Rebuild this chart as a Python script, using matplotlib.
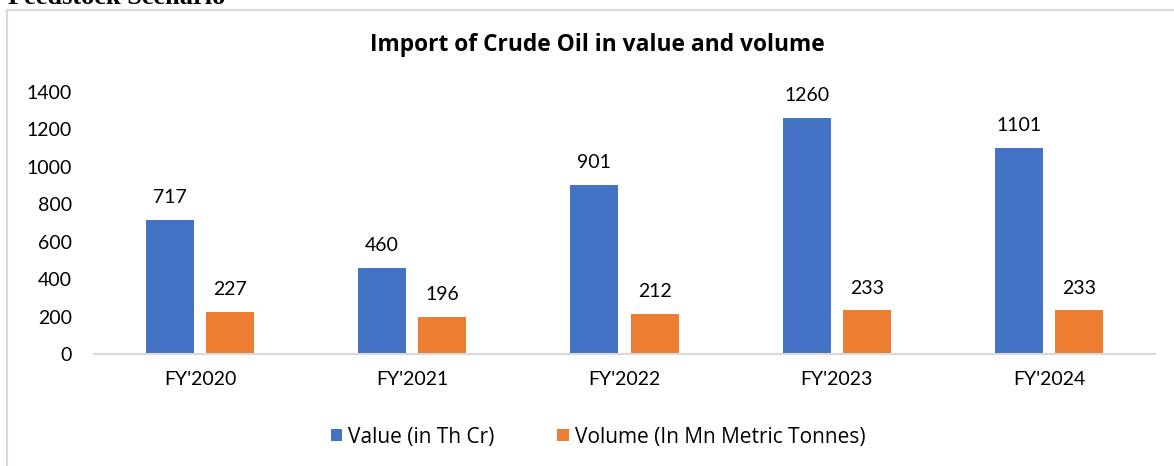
import numpy as np
import matplotlib.pyplot as plt
from matplotlib.patches import Rectangle

years = ["FY'2020", "FY'2021", "FY'2022", "FY'2023", "FY'2024"]
value_th_cr = [717, 460, 901, 1260, 1101]
volume_mn_t = [227, 196, 212, 233, 233]
yticks = [0, 200, 400, 600, 800, 1000, 1200, 1400]

plt.rcParams['font.family'] = ['Lato', 'DejaVu Sans']

W, H = 1174, 466
fig = plt.figure(figsize=(W / 100, H / 100), dpi=100)

# cut-off section header above the chart box
fig.text(8 / W, 1 - 4 / H, "Feedstock Scenario", family='Liberation Serif',
         fontweight='bold', fontsize=19, va='baseline', ha='left')

# chart frame (runs off the right and bottom edges)
fig.patches.append(Rectangle((7 / W, -0.1), 1.2, 1 - 10 / H + 0.1,
                             transform=fig.transFigure, fill=False,
                             edgecolor='#d9d9d9', lw=1.5))

ax = fig.add_axes([94 / W, 1 - 354 / H, (1155 - 94) / W, (354 - 92) / H])

x = np.arange(len(years))
w = 0.226
off = 0.142
b1 = ax.bar(x - off, value_th_cr, w, color='#4472C4', label='Value (in Th Cr)')
b2 = ax.bar(x + off, volume_mn_t, w, color='#ED7D31', label='Volume (In Mn Metric Tonnes)')

for bars in (b1, b2):
    for r in bars:
        ax.annotate(f"{int(r.get_height())}", (r.get_x() + r.get_width() / 2, r.get_height()),
                    xytext=(0, 10), textcoords='offset points', ha='center', va='bottom',
                    fontsize=14)

ax.set_xlim(-0.5, len(years) - 0.5)
ax.set_ylim(0, 1400)
ax.set_yticks(yticks)
ax.set_xticks(x)
ax.set_xticklabels(years)
ax.tick_params(axis='both', length=0, labelsize=14)
ax.tick_params(axis='y', pad=16)
ax.tick_params(axis='x', pad=12)
for s in ['top', 'right', 'left']:
    ax.spines[s].set_visible(False)
ax.spines['bottom'].set_color('#d9d9d9')
ax.spines['bottom'].set_linewidth(1.5)

fig.text(597 / W, 1 - 45 / H, "Import of Crude Oil in value and volume",
         family='Open Sans', fontsize=16.4, fontweight='bold', ha='center', va='center')

fig.legend(loc='center', bbox_to_anchor=(598 / W, 1 - 437 / H), ncol=2, frameon=False,
           prop={'family': 'Open Sans', 'size': 15}, handlelength=0.55, handleheight=0.55,
           handletextpad=0.3, columnspacing=3.0)

fig.savefig('out.png', dpi=100)
